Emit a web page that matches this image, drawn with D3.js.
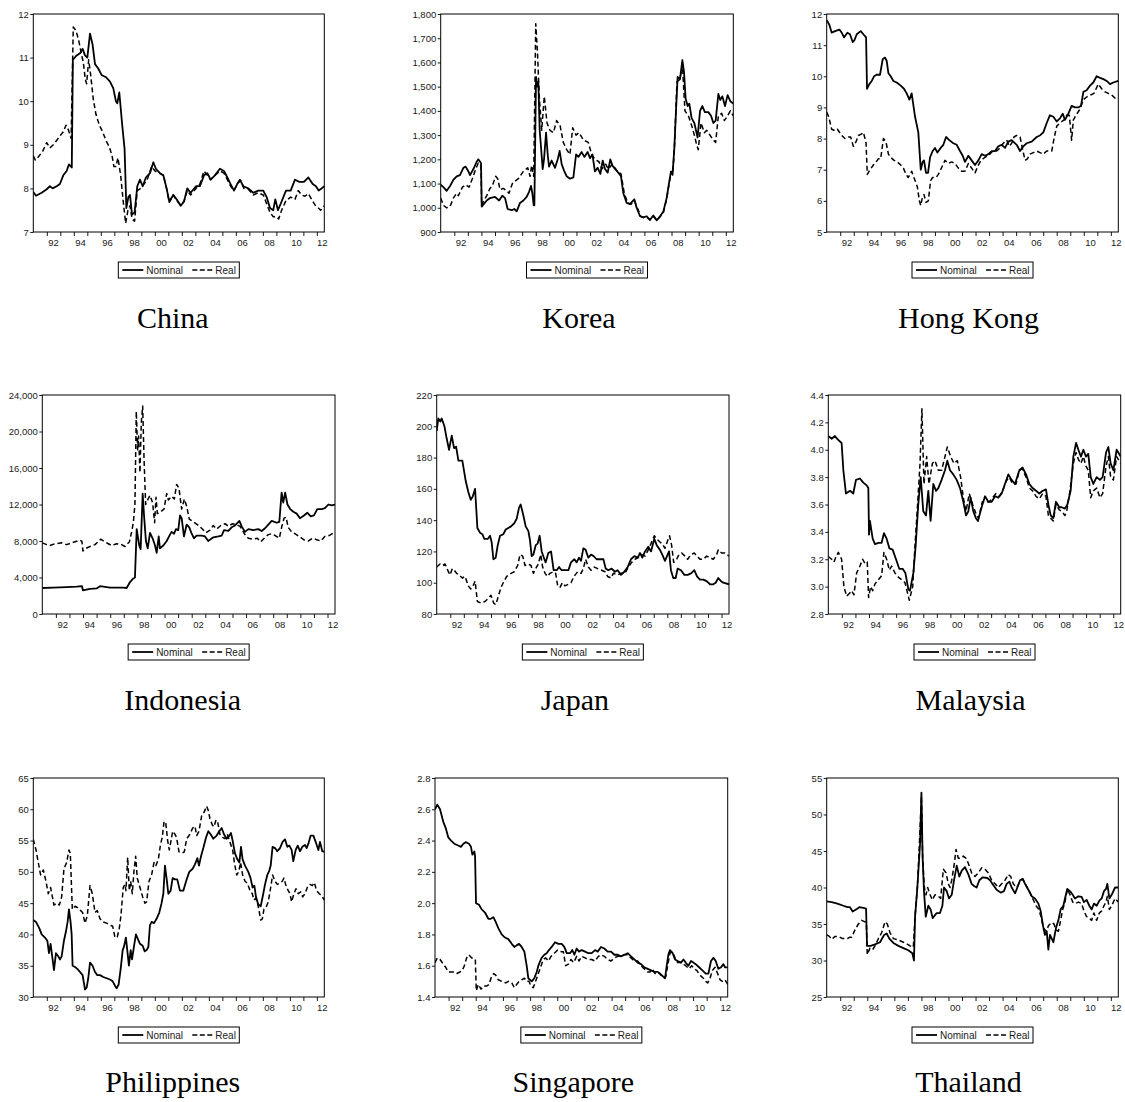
<!DOCTYPE html>
<html>
<head>
<meta charset="utf-8">
<script src="https://cdnjs.cloudflare.com/ajax/libs/d3/7.8.5/d3.min.js"></script>
<style>
  html, body { margin: 0; padding: 0; background: #fff; }
  svg { display: block; }
</style>
</head>
<body>
<svg id="chart" width="1125" height="1102"></svg>
<script>
// Monthly exchange rates, Jan 1991 – mid 2012: [decimal year, value]

const countries = ["China", "Korea", "Hong Kong", "Indonesia", "Japan", "Malaysia", "Philippines", "Singapore", "Thailand"];
const seriesNames = ["Nominal", "Real"];
const yearTicks = d3.range(1992, 2013);
const labelYears = [1992, 1994, 1996, 1998, 2000, 2002, 2004, 2006, 2008, 2010, 2012];
const yearLabels = ["92", "94", "96", "98", "00", "02", "04", "06", "08", "10", "12"];
const timeSpan = [1991, 2012.55];

const chinaTicks = [7, 8, 9, 10, 11, 12];
const koreaTicks = [900, 1000, 1100, 1200, 1300, 1400, 1500, 1600, 1700, 1800];
const hongKongTicks = [5, 6, 7, 8, 9, 10, 11, 12];
const indonesiaTicks = [0, 4000, 8000, 12000, 16000, 20000, 24000];
const japanTicks = [80, 100, 120, 140, 160, 180, 200, 220];
const malaysiaTicks = [2.8, 3.0, 3.2, 3.4, 3.6, 3.8, 4.0, 4.2, 4.4];
const philippinesTicks = [30, 35, 40, 45, 50, 55, 60, 65];
const singaporeTicks = [1.4, 1.6, 1.8, 2.0, 2.2, 2.4, 2.6, 2.8];
const thailandTicks = [25, 30, 35, 40, 45, 50, 55];

const chinaNominal = [[1991.00,7.92],[1991.20,7.83],[1991.62,7.9],[1991.99,7.98],[1992.23,8.05],[1992.43,8.0],[1992.73,8.05],[1992.97,8.1],[1993.22,8.3],[1993.47,8.4],[1993.64,8.55],[1993.85,8.48],[1993.93,10.95],[1994.21,11.05],[1994.46,11.1],[1994.65,11.2],[1994.83,11.05],[1995.00,11.0],[1995.20,11.55],[1995.39,11.3],[1995.57,10.85],[1995.81,10.75],[1996.06,10.6],[1996.38,10.55],[1996.68,10.45],[1996.92,10.3],[1997.12,10.0],[1997.22,9.95],[1997.37,10.2],[1997.57,9.5],[1997.76,8.9],[1997.89,7.55],[1998.04,7.8],[1998.16,7.85],[1998.31,7.4],[1998.50,7.45],[1998.70,8.05],[1998.90,8.2],[1999.10,8.05],[1999.34,8.25],[1999.64,8.35],[1999.89,8.6],[2000.08,8.45],[2000.38,8.35],[2000.63,8.3],[2000.87,8.0],[2001.07,7.7],[2001.37,7.85],[2001.61,7.75],[2001.91,7.6],[2002.16,7.7],[2002.40,8.0],[2002.65,7.9],[2003.05,8.05],[2003.34,8.05],[2003.64,8.3],[2003.89,8.35],[2004.13,8.2],[2004.45,8.3],[2004.82,8.45],[2005.12,8.4],[2005.37,8.25],[2005.61,8.1],[2005.86,7.95],[2006.10,8.1],[2006.30,8.2],[2006.55,8.05],[2006.92,8.0],[2007.29,7.9],[2007.66,7.95],[2008.03,7.95],[2008.28,7.8],[2008.53,7.55],[2008.77,7.5],[2008.92,7.75],[2009.12,7.5],[2009.39,7.7],[2009.71,7.95],[2010.06,7.95],[2010.38,8.2],[2010.70,8.15],[2011.04,8.15],[2011.37,8.25],[2011.69,8.1],[2011.93,8.05],[2012.13,7.95],[2012.35,8.0],[2012.55,8.05]];
const chinaReal = [[1991.00,8.75],[1991.15,8.65],[1991.37,8.72],[1991.69,8.85],[1991.99,9.05],[1992.23,8.93],[1992.48,9.0],[1992.73,9.1],[1992.97,9.2],[1993.22,9.3],[1993.42,9.45],[1993.59,9.35],[1993.80,9.15],[1993.96,11.7],[1994.16,11.62],[1994.36,11.4],[1994.55,11.1],[1994.70,10.9],[1994.85,10.5],[1994.95,10.4],[1995.10,10.95],[1995.25,10.6],[1995.44,10.05],[1995.64,9.7],[1995.89,9.45],[1996.13,9.3],[1996.38,9.1],[1996.63,8.95],[1996.83,8.75],[1996.97,8.5],[1997.12,8.5],[1997.27,8.7],[1997.47,8.3],[1997.66,7.7],[1997.84,7.2],[1998.01,7.5],[1998.16,7.6],[1998.31,7.3],[1998.50,7.25],[1998.70,7.95],[1998.95,8.0],[1999.20,8.1],[1999.44,8.2],[1999.76,8.5],[2000.01,8.4],[2000.33,8.35],[2000.63,8.3],[2000.87,8.0],[2001.07,7.68],[2001.37,7.85],[2001.61,7.72],[2001.91,7.62],[2002.16,7.7],[2002.40,7.95],[2002.65,7.85],[2003.05,8.0],[2003.34,8.1],[2003.64,8.4],[2003.89,8.3],[2004.13,8.2],[2004.45,8.3],[2004.82,8.4],[2005.12,8.35],[2005.37,8.2],[2005.61,8.05],[2005.86,7.95],[2006.10,8.1],[2006.35,8.18],[2006.60,8.0],[2006.92,7.98],[2007.29,7.85],[2007.66,7.9],[2008.03,7.85],[2008.28,7.65],[2008.53,7.45],[2008.77,7.35],[2009.02,7.35],[2009.17,7.3],[2009.39,7.5],[2009.71,7.72],[2010.06,7.8],[2010.38,7.75],[2010.62,7.95],[2010.87,7.85],[2011.12,7.82],[2011.37,7.88],[2011.61,7.75],[2011.86,7.62],[2012.11,7.55],[2012.28,7.5],[2012.55,7.6]];

const koreaNominal = [[1991.00,1095],[1991.20,1085],[1991.44,1070],[1991.69,1090],[1991.93,1115],[1992.18,1130],[1992.42,1135],[1992.67,1165],[1992.84,1170],[1993.04,1150],[1993.16,1135],[1993.41,1160],[1993.65,1190],[1993.77,1200],[1993.97,1185],[1994.02,1005],[1994.39,1030],[1994.63,1040],[1995.00,1045],[1995.30,1030],[1995.54,1050],[1995.74,1040],[1995.93,995],[1996.23,990],[1996.42,995],[1996.60,985],[1996.84,1020],[1997.09,1030],[1997.33,1045],[1997.50,1065],[1997.65,1090],[1997.75,1060],[1997.85,1010],[1997.90,1010],[1998.02,1540],[1998.12,1500],[1998.19,1520],[1998.29,1320],[1998.39,1250],[1998.51,1160],[1998.61,1200],[1998.76,1310],[1998.88,1220],[1998.98,1170],[1999.17,1195],[1999.42,1165],[1999.62,1200],[1999.76,1235],[1999.91,1180],[2000.11,1150],[2000.28,1130],[2000.52,1120],[2000.77,1125],[2000.97,1220],[2001.14,1210],[2001.38,1230],[2001.58,1210],[2001.82,1230],[2002.00,1205],[2002.17,1220],[2002.36,1150],[2002.56,1165],[2002.76,1140],[2002.93,1195],[2003.10,1160],[2003.30,1145],[2003.49,1200],[2003.64,1175],[2003.84,1160],[2004.08,1145],[2004.28,1130],[2004.45,1060],[2004.70,1020],[2004.94,1015],[2005.26,1035],[2005.43,1000],[2005.68,965],[2005.92,960],[2006.17,965],[2006.41,950],[2006.66,968],[2006.91,948],[2007.15,965],[2007.40,985],[2007.64,1040],[2007.81,1100],[2007.96,1150],[2008.08,1140],[2008.21,1250],[2008.33,1400],[2008.45,1540],[2008.62,1530],[2008.80,1610],[2008.92,1560],[2009.04,1450],[2009.19,1420],[2009.31,1430],[2009.48,1370],[2009.68,1350],[2009.80,1320],[2009.92,1290],[2010.10,1400],[2010.27,1420],[2010.46,1395],[2010.71,1395],[2010.91,1380],[2011.08,1350],[2011.25,1360],[2011.45,1470],[2011.59,1445],[2011.74,1460],[2011.94,1420],[2012.13,1465],[2012.33,1440],[2012.55,1430]];
const koreaReal = [[1991.00,1040],[1991.20,1010],[1991.44,1000],[1991.69,1005],[1991.93,1040],[1992.18,1060],[1992.30,1050],[1992.60,1085],[1992.84,1095],[1993.09,1085],[1993.33,1120],[1993.58,1160],[1993.77,1185],[1993.97,1170],[1994.02,1010],[1994.14,1025],[1994.39,1050],[1994.63,1080],[1994.80,1090],[1995.05,1130],[1995.20,1120],[1995.37,1075],[1995.61,1080],[1995.86,1070],[1996.03,1060],[1996.28,1100],[1996.47,1110],[1996.72,1120],[1997.09,1150],[1997.41,1165],[1997.58,1130],[1997.70,1175],[1997.85,1130],[1998.00,1760],[1998.12,1650],[1998.27,1450],[1998.44,1320],[1998.63,1460],[1998.83,1350],[1999.05,1320],[1999.30,1310],[1999.54,1360],[1999.79,1340],[2000.03,1270],[2000.28,1240],[2000.52,1220],[2000.72,1330],[2000.97,1300],[2001.19,1310],[2001.51,1280],[2001.87,1270],[2002.12,1220],[2002.36,1200],[2002.66,1190],[2002.86,1160],[2003.15,1180],[2003.35,1160],[2003.64,1180],[2003.96,1155],[2004.28,1140],[2004.52,1060],[2004.77,1020],[2005.02,1015],[2005.26,1030],[2005.48,1000],[2005.73,965],[2005.92,960],[2006.17,962],[2006.41,950],[2006.66,965],[2006.91,948],[2007.15,962],[2007.40,980],[2007.64,1035],[2007.81,1095],[2007.96,1145],[2008.08,1135],[2008.21,1240],[2008.40,1520],[2008.62,1530],[2008.80,1590],[2008.99,1400],[2009.24,1380],[2009.48,1340],[2009.68,1300],[2009.85,1260],[2009.97,1240],[2010.17,1350],[2010.42,1310],[2010.59,1320],[2010.83,1300],[2011.08,1280],[2011.25,1270],[2011.45,1380],[2011.69,1390],[2011.89,1360],[2012.13,1380],[2012.33,1400],[2012.55,1380]];

const hongKongNominal = [[1991.00,11.8],[1991.20,11.65],[1991.37,11.4],[1991.62,11.45],[1991.94,11.5],[1992.11,11.4],[1992.28,11.25],[1992.53,11.4],[1992.72,11.35],[1992.92,11.1],[1993.04,11.15],[1993.22,11.35],[1993.51,11.45],[1993.71,11.35],[1993.91,11.25],[1993.98,9.6],[1994.15,9.75],[1994.33,9.85],[1994.50,10.0],[1994.69,10.05],[1994.94,10.05],[1995.14,10.55],[1995.31,10.6],[1995.43,10.5],[1995.56,10.1],[1995.73,10.0],[1995.93,9.85],[1996.17,9.8],[1996.47,9.7],[1996.71,9.6],[1996.91,9.45],[1997.11,9.25],[1997.28,9.45],[1997.53,8.7],[1997.77,8.2],[1997.95,7.0],[1998.09,7.25],[1998.19,7.3],[1998.34,6.9],[1998.49,6.9],[1998.64,7.4],[1998.83,7.6],[1999.00,7.7],[1999.18,7.55],[1999.42,7.7],[1999.62,7.8],[1999.82,8.05],[2000.06,7.95],[2000.36,7.85],[2000.61,7.8],[2000.85,7.6],[2001.05,7.45],[2001.22,7.25],[2001.47,7.45],[2001.71,7.3],[2001.96,7.15],[2002.21,7.3],[2002.45,7.5],[2002.70,7.45],[2002.95,7.5],[2003.19,7.6],[2003.44,7.6],[2003.68,7.75],[2003.93,7.8],[2004.18,7.7],[2004.42,7.9],[2004.67,7.95],[2005.04,7.8],[2005.29,7.6],[2005.53,7.75],[2005.78,7.85],[2006.15,7.9],[2006.52,8.05],[2006.76,8.1],[2007.01,8.2],[2007.26,8.5],[2007.50,8.75],[2007.75,8.7],[2008.00,8.55],[2008.24,8.65],[2008.44,8.8],[2008.61,8.6],[2008.86,8.8],[2009.10,9.05],[2009.35,9.0],[2009.60,9.0],[2009.79,9.05],[2009.97,9.5],[2010.21,9.55],[2010.46,9.7],[2010.70,9.8],[2010.95,10.0],[2011.20,9.95],[2011.49,9.9],[2011.69,9.85],[2011.94,9.75],[2012.18,9.8],[2012.55,9.85]];
const hongKongReal = [[1991.00,8.85],[1991.15,8.7],[1991.37,8.3],[1991.62,8.25],[1991.79,8.3],[1992.11,8.1],[1992.35,8.0],[1992.60,8.05],[1992.77,8.05],[1992.97,7.75],[1993.17,7.9],[1993.34,8.1],[1993.59,8.15],[1993.71,8.2],[1993.83,8.0],[1993.91,7.85],[1994.00,6.85],[1994.20,7.0],[1994.45,7.15],[1994.65,7.25],[1994.82,7.35],[1994.99,7.35],[1995.19,8.0],[1995.38,7.9],[1995.56,7.5],[1995.73,7.4],[1995.98,7.3],[1996.22,7.25],[1996.47,7.15],[1996.67,7.05],[1996.86,6.85],[1997.03,6.75],[1997.28,6.95],[1997.53,6.65],[1997.70,6.45],[1997.85,6.0],[1997.95,5.85],[1998.09,6.15],[1998.19,6.2],[1998.34,5.95],[1998.51,6.0],[1998.68,6.65],[1998.83,6.75],[1999.08,6.75],[1999.25,6.85],[1999.42,7.0],[1999.74,7.3],[1999.99,7.2],[2000.24,7.25],[2000.48,7.2],[2000.73,7.05],[2000.98,6.95],[2001.22,6.95],[2001.47,7.2],[2001.71,7.05],[2001.96,6.9],[2002.21,7.15],[2002.40,7.3],[2002.70,7.4],[2002.95,7.45],[2003.27,7.6],[2003.56,7.6],[2003.81,7.7],[2004.05,7.85],[2004.30,7.95],[2004.50,7.75],[2004.67,7.85],[2004.84,8.05],[2005.04,8.1],[2005.29,8.05],[2005.48,7.65],[2005.66,7.3],[2005.83,7.35],[2006.02,7.5],[2006.27,7.55],[2006.52,7.6],[2006.76,7.55],[2007.01,7.5],[2007.26,7.6],[2007.63,7.6],[2007.80,8.0],[2008.00,8.4],[2008.24,8.5],[2008.54,8.6],[2008.73,8.75],[2008.93,8.75],[2009.10,7.95],[2009.23,8.6],[2009.42,8.75],[2009.72,8.95],[2009.97,9.25],[2010.26,9.35],[2010.51,9.4],[2010.75,9.45],[2011.07,9.75],[2011.32,9.6],[2011.57,9.5],[2011.81,9.45],[2012.06,9.4],[2012.31,9.3],[2012.55,9.3]];

const indonesiaNominal = [[1991.00,2850],[1991.81,2900],[1992.79,2950],[1993.53,3000],[1993.92,3050],[1993.99,2600],[1994.51,2750],[1995.00,2800],[1995.25,3050],[1995.49,3000],[1995.98,2900],[1996.96,2900],[1997.21,2850],[1997.46,3500],[1997.70,3900],[1997.82,4000],[1997.95,9300],[1998.14,7500],[1998.24,7100],[1998.39,13200],[1998.49,10800],[1998.63,8000],[1998.76,7200],[1998.93,8900],[1999.12,8300],[1999.30,7500],[1999.42,6700],[1999.57,8500],[1999.66,7200],[1999.91,7500],[2000.16,8000],[2000.40,8700],[2000.52,9000],[2000.70,8800],[2000.84,9300],[2001.01,9200],[2001.14,10800],[2001.26,10500],[2001.43,8500],[2001.63,9800],[2001.82,9500],[2002.00,8800],[2002.17,8300],[2002.36,8600],[2002.73,8600],[2002.98,8500],[2003.22,8000],[2003.59,8400],[2003.96,8500],[2004.21,8600],[2004.38,9200],[2004.70,9100],[2004.94,9500],[2005.19,9700],[2005.51,10200],[2005.68,9600],[2005.92,9000],[2006.17,9300],[2006.54,9200],[2006.91,9300],[2007.15,9100],[2007.40,9400],[2007.64,9800],[2007.89,10200],[2008.26,10000],[2008.45,10100],[2008.62,13300],[2008.74,12200],[2008.88,13300],[2009.05,12000],[2009.25,11500],[2009.48,11200],[2009.73,11000],[2009.97,10500],[2010.27,10800],[2010.51,11100],[2010.76,10700],[2011.00,10800],[2011.25,11500],[2011.57,11500],[2011.81,11600],[2012.06,12000],[2012.31,11900],[2012.55,12000]];
const indonesiaReal = [[1991.00,7800],[1991.32,7600],[1991.56,7500],[1991.93,7700],[1992.42,7800],[1992.79,7600],[1993.16,7800],[1993.58,8000],[1993.77,8100],[1993.92,7950],[1993.99,6900],[1994.22,7200],[1994.51,7400],[1994.88,7600],[1995.30,8200],[1995.61,7900],[1995.86,7700],[1996.11,7500],[1996.47,7700],[1996.84,7600],[1997.09,7400],[1997.21,7600],[1997.41,7900],[1997.58,9000],[1997.70,10000],[1997.82,12000],[1997.92,22200],[1998.02,18000],[1998.09,19500],[1998.19,15500],[1998.29,21000],[1998.39,22800],[1998.49,17000],[1998.61,12000],[1998.76,12500],[1998.93,13000],[1999.12,12200],[1999.27,10000],[1999.37,12800],[1999.47,11000],[1999.71,11200],[1999.96,11500],[2000.16,13200],[2000.28,12500],[2000.52,12900],[2000.72,12600],[2000.89,14200],[2001.06,13800],[2001.26,11500],[2001.46,12600],[2001.63,11800],[2001.82,10400],[2002.12,10100],[2002.41,9800],[2002.73,9400],[2003.05,8900],[2003.35,9200],[2003.59,9700],[2003.84,9300],[2004.14,9700],[2004.46,9900],[2004.70,9600],[2005.00,9900],[2005.31,9800],[2005.56,9600],[2005.92,8700],[2006.17,8300],[2006.54,8200],[2006.83,8300],[2007.08,7900],[2007.40,8400],[2007.64,8700],[2007.89,8800],[2008.14,8600],[2008.45,8300],[2008.62,9500],[2008.80,10500],[2008.95,10600],[2009.10,9500],[2009.35,9000],[2009.60,8800],[2009.92,8500],[2010.29,8100],[2010.58,8000],[2010.90,8300],[2011.27,8100],[2011.51,8000],[2011.80,8500],[2012.12,8600],[2012.44,8900],[2012.55,8900]];

const japanNominal = [[1991.00,197],[1991.12,205],[1991.27,203],[1991.37,205],[1991.57,200],[1991.74,192],[1991.91,185],[1992.11,194],[1992.28,186],[1992.43,187],[1992.60,178],[1992.89,178],[1993.14,165],[1993.33,158],[1993.51,153],[1993.65,155],[1993.83,160],[1994.00,135],[1994.19,132],[1994.37,131],[1994.51,128],[1994.76,128],[1994.93,130],[1995.05,126],[1995.18,115],[1995.35,116],[1995.50,124],[1995.67,130],[1995.91,131],[1996.09,134],[1996.28,135],[1996.48,136],[1996.72,138],[1996.90,141],[1997.07,148],[1997.19,150],[1997.39,143],[1997.56,136],[1997.76,133],[1997.88,127],[1998.00,117],[1998.13,118],[1998.30,124],[1998.44,125],[1998.59,130],[1998.74,120],[1998.94,115],[1999.03,113],[1999.23,119],[1999.43,120],[1999.62,108],[1999.85,108],[2000.02,110],[2000.21,108],[2000.46,108],[2000.71,108],[2000.90,113],[2001.15,115],[2001.32,113],[2001.49,116],[2001.64,114],[2001.81,122],[2001.98,121],[2002.18,116],[2002.38,118],[2002.57,117],[2002.79,115],[2003.04,115],[2003.29,115],[2003.46,109],[2003.65,108],[2003.90,109],[2004.14,107],[2004.34,108],[2004.59,105],[2004.83,107],[2005.08,110],[2005.32,115],[2005.57,117],[2005.82,116],[2005.99,119],[2006.16,116],[2006.36,120],[2006.60,123],[2006.80,120],[2007.04,128],[2007.22,124],[2007.46,121],[2007.63,118],[2007.83,114],[2007.98,117],[2008.13,120],[2008.27,108],[2008.44,103],[2008.62,103],[2008.76,109],[2009.01,108],[2009.26,105],[2009.50,105],[2009.75,106],[2009.99,108],[2010.19,104],[2010.41,102],[2010.66,102],[2010.90,101],[2011.15,99],[2011.39,99],[2011.57,100],[2011.76,103],[2011.96,101],[2012.13,100],[2012.55,99]];
const japanReal = [[1991.00,110],[1991.25,112],[1991.44,111],[1991.61,112],[1991.81,108],[1991.98,105],[1992.15,109],[1992.30,108],[1992.47,106],[1992.65,105],[1992.89,103],[1993.09,104],[1993.33,98],[1993.51,96],[1993.68,98],[1993.83,101],[1994.00,88],[1994.27,87],[1994.56,88],[1994.81,90],[1995.00,92],[1995.20,87],[1995.35,86],[1995.50,90],[1995.74,97],[1995.91,100],[1996.16,104],[1996.48,106],[1996.72,107],[1996.97,111],[1997.14,118],[1997.34,117],[1997.51,111],[1997.76,112],[1997.95,111],[1998.13,106],[1998.30,109],[1998.49,112],[1998.67,118],[1998.81,110],[1998.99,106],[1999.16,104],[1999.35,106],[1999.60,107],[1999.77,106],[1999.92,98],[2000.09,97],[2000.26,100],[2000.46,98],[2000.71,99],[2000.90,100],[2001.12,104],[2001.39,107],[2001.64,106],[2001.81,109],[2001.98,115],[2002.18,110],[2002.38,108],[2002.62,110],[2002.87,109],[2003.16,108],[2003.41,107],[2003.60,104],[2003.85,103],[2004.02,106],[2004.34,105],[2004.59,106],[2004.88,106],[2005.13,110],[2005.37,113],[2005.62,115],[2005.86,116],[2006.11,118],[2006.36,117],[2006.60,121],[2006.80,125],[2007.04,130],[2007.22,128],[2007.46,126],[2007.63,125],[2007.83,122],[2008.03,127],[2008.17,130],[2008.32,124],[2008.47,113],[2008.69,115],[2008.86,118],[2009.06,119],[2009.30,117],[2009.50,115],[2009.75,118],[2009.99,119],[2010.19,117],[2010.41,115],[2010.66,115],[2010.90,117],[2011.15,116],[2011.39,115],[2011.64,118],[2011.76,121],[2012.01,119],[2012.25,119],[2012.55,117]];

const malaysiaNominal = [[1991.00,4.1],[1991.25,4.08],[1991.49,4.1],[1991.66,4.08],[1991.86,4.06],[1991.98,4.05],[1992.11,3.85],[1992.30,3.68],[1992.60,3.7],[1992.84,3.68],[1993.04,3.78],[1993.33,3.79],[1993.58,3.76],[1993.83,3.74],[1993.95,3.72],[1994.00,3.38],[1994.07,3.48],[1994.27,3.35],[1994.44,3.31],[1994.69,3.32],[1994.93,3.32],[1995.10,3.39],[1995.30,3.35],[1995.50,3.28],[1995.74,3.27],[1995.99,3.2],[1996.23,3.13],[1996.48,3.13],[1996.68,3.1],[1996.90,2.98],[1997.02,2.97],[1997.27,3.1],[1997.44,3.3],[1997.63,3.6],[1997.81,3.8],[1998.00,3.55],[1998.20,3.52],[1998.37,3.7],[1998.54,3.48],[1998.74,3.75],[1998.94,3.7],[1999.11,3.72],[1999.35,3.78],[1999.60,3.85],[1999.77,3.92],[1999.97,3.85],[2000.21,3.82],[2000.46,3.78],[2000.71,3.72],[2000.95,3.62],[2001.15,3.52],[2001.32,3.55],[2001.49,3.65],[2001.69,3.55],[2001.88,3.5],[2002.03,3.48],[2002.30,3.58],[2002.55,3.66],[2002.79,3.62],[2003.04,3.62],[2003.29,3.66],[2003.53,3.65],[2003.78,3.68],[2004.02,3.75],[2004.27,3.82],[2004.51,3.78],[2004.76,3.75],[2005.08,3.85],[2005.32,3.87],[2005.57,3.82],[2005.82,3.75],[2006.06,3.72],[2006.31,3.7],[2006.55,3.68],[2006.80,3.7],[2007.04,3.71],[2007.22,3.6],[2007.39,3.52],[2007.58,3.5],[2007.78,3.62],[2008.03,3.58],[2008.20,3.58],[2008.44,3.57],[2008.62,3.6],[2008.86,3.7],[2009.06,3.95],[2009.26,4.05],[2009.43,4.0],[2009.62,3.95],[2009.80,4.0],[2009.99,3.95],[2010.16,3.97],[2010.34,3.8],[2010.53,3.75],[2010.78,3.8],[2011.02,3.78],[2011.22,3.8],[2011.47,3.98],[2011.64,4.02],[2011.81,3.9],[2012.01,3.85],[2012.25,4.0],[2012.55,3.95]];
const malaysiaReal = [[1991.00,3.22],[1991.25,3.2],[1991.42,3.18],[1991.57,3.22],[1991.74,3.25],[1991.98,3.2],[1992.15,3.0],[1992.35,2.93],[1992.55,2.95],[1992.72,2.97],[1992.89,2.94],[1993.09,3.1],[1993.33,3.15],[1993.53,3.2],[1993.70,3.17],[1993.87,3.18],[1993.97,2.92],[1994.12,3.0],[1994.27,2.97],[1994.44,3.02],[1994.69,3.05],[1994.93,3.08],[1995.10,3.25],[1995.30,3.2],[1995.50,3.12],[1995.67,3.15],[1995.91,3.1],[1996.16,3.07],[1996.41,3.05],[1996.65,3.03],[1996.97,2.9],[1997.22,3.0],[1997.39,3.3],[1997.58,3.6],[1997.76,3.9],[1997.90,4.3],[1998.05,3.75],[1998.25,3.95],[1998.42,3.75],[1998.67,3.9],[1998.86,3.92],[1999.11,3.85],[1999.35,3.85],[1999.60,3.95],[1999.77,4.02],[2000.02,3.95],[2000.26,3.9],[2000.51,3.92],[2000.75,3.8],[2000.95,3.65],[2001.15,3.55],[2001.39,3.68],[2001.64,3.6],[2001.93,3.52],[2002.08,3.5],[2002.35,3.62],[2002.62,3.62],[2002.87,3.62],[2003.11,3.65],[2003.36,3.68],[2003.60,3.66],[2003.85,3.7],[2004.10,3.77],[2004.34,3.8],[2004.59,3.75],[2004.83,3.75],[2005.08,3.85],[2005.32,3.86],[2005.57,3.8],[2005.82,3.72],[2006.06,3.7],[2006.31,3.66],[2006.55,3.64],[2006.80,3.68],[2007.04,3.66],[2007.22,3.52],[2007.39,3.5],[2007.58,3.48],[2007.78,3.6],[2008.03,3.56],[2008.20,3.55],[2008.44,3.52],[2008.57,3.55],[2008.81,3.7],[2009.06,3.9],[2009.26,3.98],[2009.43,3.93],[2009.62,3.9],[2009.80,3.95],[2009.99,3.88],[2010.16,3.85],[2010.34,3.65],[2010.53,3.7],[2010.78,3.72],[2011.02,3.65],[2011.22,3.68],[2011.47,3.88],[2011.64,3.95],[2011.81,3.8],[2012.01,3.78],[2012.25,3.95],[2012.55,3.9]];

const philippinesNominal = [[1991.00,42.3],[1991.20,42],[1991.44,41],[1991.62,40],[1991.86,39.5],[1992.04,39],[1992.16,37],[1992.28,38.5],[1992.43,36],[1992.53,34.3],[1992.68,37],[1992.85,36.5],[1992.97,36],[1993.10,36.5],[1993.27,39],[1993.42,40.5],[1993.54,42],[1993.64,44],[1993.76,42],[1993.84,40],[1993.91,35],[1994.09,34.8],[1994.26,34.5],[1994.46,34],[1994.65,33.5],[1994.83,31.2],[1994.95,31.5],[1995.07,33],[1995.20,35.5],[1995.39,35],[1995.57,34],[1995.74,33.5],[1995.94,33.5],[1996.18,33.2],[1996.43,33],[1996.68,32.8],[1996.88,32.5],[1997.05,31.8],[1997.17,31.4],[1997.32,32],[1997.47,34.5],[1997.62,37.5],[1997.71,38],[1997.86,39.5],[1998.08,35],[1998.21,37.5],[1998.31,36],[1998.45,38],[1998.60,40],[1998.70,39.5],[1998.90,38.5],[1999.10,38.2],[1999.25,37.3],[1999.39,37.5],[1999.52,38],[1999.64,41.5],[1999.76,42],[1999.94,41.8],[2000.13,42.5],[2000.33,43.5],[2000.50,45],[2000.63,46.5],[2000.75,51],[2000.87,49],[2001.00,46.5],[2001.17,47],[2001.32,49],[2001.49,48.8],[2001.66,48.8],[2001.86,47],[2002.11,47],[2002.36,48.8],[2002.55,50],[2002.80,50.5],[2002.97,51.2],[2003.15,52.2],[2003.27,51],[2003.42,52.5],[2003.59,53.8],[2003.79,55.5],[2003.96,56.5],[2004.13,56],[2004.33,55.3],[2004.58,55.8],[2004.77,56.5],[2004.95,57],[2005.12,56],[2005.32,55.3],[2005.52,55.8],[2005.64,56.2],[2005.76,55],[2005.93,53],[2006.11,52],[2006.26,51.5],[2006.38,54],[2006.50,52],[2006.68,51],[2006.92,50],[2007.09,49],[2007.24,47.5],[2007.37,47.8],[2007.49,46],[2007.66,44.8],[2007.84,44.5],[2008.03,46.5],[2008.16,48],[2008.33,49.5],[2008.48,50.2],[2008.58,51],[2008.72,54],[2008.90,53.8],[2009.07,53.3],[2009.27,53.8],[2009.46,54.8],[2009.64,55.2],[2009.81,54],[2009.96,54.2],[2010.13,53.5],[2010.25,51.7],[2010.43,53.5],[2010.58,54.2],[2010.75,53.3],[2010.92,54],[2011.12,54.3],[2011.24,53.8],[2011.37,54.5],[2011.54,55.8],[2011.74,55.8],[2011.91,54.8],[2012.11,53.5],[2012.23,54.8],[2012.40,53.3],[2012.55,53.2]];
const philippinesReal = [[1991.00,55.2],[1991.20,53.5],[1991.37,51.5],[1991.54,49.5],[1991.74,50.3],[1991.94,48.5],[1992.11,46.5],[1992.28,47.5],[1992.53,44.7],[1992.73,45],[1992.93,44.7],[1993.10,46],[1993.27,50.5],[1993.47,51.5],[1993.64,53.5],[1993.74,53],[1993.89,44],[1994.09,44.5],[1994.26,44.3],[1994.51,43.8],[1994.65,43.5],[1994.83,41.8],[1995.00,43],[1995.20,47.8],[1995.37,46.5],[1995.57,43.5],[1995.74,43.8],[1995.94,42.5],[1996.18,42],[1996.43,41.8],[1996.68,41.5],[1996.88,41.3],[1997.05,39.5],[1997.22,39.6],[1997.37,41],[1997.49,43],[1997.66,47.5],[1997.79,48],[1997.86,47],[1997.99,52.3],[1998.11,47],[1998.21,48.5],[1998.33,46.5],[1998.45,50],[1998.58,52.5],[1998.70,49],[1998.90,47.5],[1999.10,46],[1999.27,45],[1999.39,45.2],[1999.57,48.5],[1999.76,49.5],[1999.94,51.5],[2000.08,51],[2000.26,52],[2000.43,54.5],[2000.55,55.5],[2000.68,58],[2000.80,58],[2000.95,55],[2001.07,53.5],[2001.20,55],[2001.32,56.5],[2001.49,56],[2001.61,55.5],[2001.79,53.2],[2002.03,53],[2002.18,53.2],[2002.36,55.3],[2002.60,56],[2002.80,57],[2002.97,57.3],[2003.10,55.8],[2003.27,56.5],[2003.47,59],[2003.64,59.5],[2003.84,60.5],[2003.96,59.8],[2004.08,58.5],[2004.26,57.5],[2004.38,57.2],[2004.53,58.3],[2004.65,58],[2004.82,56],[2005.02,55.5],[2005.19,55.3],[2005.37,56],[2005.56,54.8],[2005.76,53.5],[2005.89,51.5],[2006.06,49.5],[2006.21,50],[2006.35,51.5],[2006.50,49.5],[2006.68,48.5],[2006.85,48.2],[2007.05,47],[2007.22,46.5],[2007.34,45.5],[2007.49,45.8],[2007.66,44.5],[2007.84,42.3],[2007.96,42.5],[2008.08,44],[2008.23,44.3],[2008.40,45.2],[2008.58,47.5],[2008.72,49.5],[2008.90,48.5],[2009.07,48],[2009.27,48.2],[2009.44,48.5],[2009.56,49],[2009.71,47.8],[2009.88,47],[2010.01,46.5],[2010.13,45.2],[2010.30,46.5],[2010.45,47.3],[2010.62,46.5],[2010.80,46.8],[2010.95,46],[2011.12,46.5],[2011.29,47.5],[2011.49,48],[2011.66,47.8],[2011.81,48.3],[2011.98,47],[2012.18,46.5],[2012.35,46.2],[2012.55,45.5]];

const singaporeNominal = [[1991.00,2.6],[1991.17,2.63],[1991.37,2.6],[1991.61,2.52],[1991.79,2.48],[1991.98,2.42],[1992.18,2.4],[1992.42,2.38],[1992.67,2.37],[1992.91,2.36],[1993.09,2.38],[1993.26,2.39],[1993.50,2.38],[1993.65,2.36],[1993.75,2.31],[1993.90,2.33],[1993.95,2.3],[1994.02,2.0],[1994.24,1.99],[1994.44,1.96],[1994.68,1.94],[1994.93,1.9],[1995.10,1.9],[1995.30,1.91],[1995.47,1.88],[1995.66,1.84],[1995.91,1.8],[1996.15,1.78],[1996.40,1.77],[1996.65,1.74],[1996.84,1.72],[1997.01,1.73],[1997.19,1.74],[1997.38,1.72],[1997.58,1.69],[1997.75,1.6],[1997.87,1.52],[1998.12,1.5],[1998.31,1.52],[1998.49,1.56],[1998.61,1.6],[1998.85,1.65],[1999.05,1.67],[1999.22,1.68],[1999.39,1.7],[1999.59,1.72],[1999.84,1.75],[2000.08,1.74],[2000.33,1.74],[2000.52,1.72],[2000.70,1.68],[2000.94,1.68],[2001.11,1.7],[2001.26,1.67],[2001.43,1.71],[2001.60,1.69],[2001.80,1.7],[2002.05,1.69],[2002.29,1.68],[2002.54,1.68],[2002.78,1.7],[2002.98,1.69],[2003.22,1.72],[2003.47,1.71],[2003.71,1.69],[2003.96,1.69],[2004.21,1.67],[2004.45,1.67],[2004.70,1.66],[2004.94,1.67],[2005.19,1.68],[2005.43,1.66],[2005.68,1.64],[2005.92,1.62],[2006.17,1.61],[2006.41,1.59],[2006.66,1.58],[2006.91,1.57],[2007.15,1.56],[2007.40,1.56],[2007.57,1.55],[2007.81,1.53],[2007.94,1.52],[2008.06,1.6],[2008.18,1.67],[2008.30,1.7],[2008.50,1.68],[2008.67,1.64],[2008.87,1.63],[2009.11,1.62],[2009.29,1.64],[2009.46,1.62],[2009.65,1.6],[2009.85,1.63],[2010.02,1.62],[2010.19,1.61],[2010.44,1.59],[2010.69,1.57],[2010.93,1.55],[2011.13,1.55],[2011.32,1.63],[2011.50,1.65],[2011.67,1.63],[2011.86,1.58],[2012.06,1.59],[2012.23,1.61],[2012.35,1.59],[2012.55,1.59]];
const singaporeReal = [[1991.00,1.62],[1991.17,1.65],[1991.37,1.64],[1991.61,1.61],[1991.79,1.59],[1991.98,1.56],[1992.35,1.56],[1992.60,1.55],[1992.84,1.56],[1993.01,1.57],[1993.16,1.6],[1993.33,1.65],[1993.50,1.67],[1993.70,1.65],[1993.90,1.64],[1993.97,1.64],[1994.04,1.44],[1994.19,1.48],[1994.39,1.45],[1994.56,1.47],[1994.80,1.47],[1994.98,1.48],[1995.12,1.52],[1995.32,1.55],[1995.47,1.54],[1995.66,1.51],[1995.91,1.5],[1996.20,1.49],[1996.40,1.5],[1996.65,1.49],[1996.84,1.46],[1997.01,1.48],[1997.19,1.5],[1997.38,1.51],[1997.58,1.52],[1997.75,1.5],[1997.92,1.5],[1998.07,1.47],[1998.24,1.46],[1998.41,1.5],[1998.61,1.55],[1998.81,1.6],[1998.98,1.64],[1999.15,1.65],[1999.35,1.63],[1999.54,1.66],[1999.79,1.68],[2000.03,1.7],[2000.28,1.69],[2000.45,1.69],[2000.62,1.6],[2000.82,1.61],[2001.01,1.64],[2001.21,1.62],[2001.43,1.66],[2001.60,1.63],[2001.80,1.66],[2002.05,1.65],[2002.29,1.64],[2002.54,1.64],[2002.78,1.63],[2003.03,1.66],[2003.22,1.67],[2003.47,1.66],[2003.71,1.64],[2003.96,1.63],[2004.21,1.65],[2004.45,1.66],[2004.70,1.66],[2004.94,1.67],[2005.19,1.67],[2005.43,1.65],[2005.68,1.63],[2005.92,1.63],[2006.17,1.6],[2006.41,1.58],[2006.66,1.56],[2006.83,1.56],[2007.00,1.58],[2007.20,1.55],[2007.40,1.56],[2007.64,1.54],[2007.89,1.52],[2007.99,1.53],[2008.13,1.6],[2008.30,1.68],[2008.48,1.69],[2008.67,1.65],[2008.87,1.62],[2009.11,1.62],[2009.29,1.61],[2009.46,1.6],[2009.70,1.58],[2009.90,1.6],[2010.10,1.58],[2010.27,1.57],[2010.51,1.54],[2010.76,1.52],[2010.93,1.5],[2011.08,1.49],[2011.25,1.52],[2011.42,1.57],[2011.62,1.59],[2011.81,1.55],[2011.99,1.51],[2012.16,1.5],[2012.35,1.51],[2012.55,1.48]];

const thailandNominal = [[1991.00,38.1],[1991.37,38.0],[1991.79,37.8],[1992.23,37.5],[1992.53,37.3],[1992.72,37.3],[1992.92,36.7],[1993.17,37.0],[1993.41,37.3],[1993.71,37.2],[1993.91,37.1],[1993.98,32.0],[1994.25,32.0],[1994.57,32.2],[1994.94,32.5],[1995.24,33.5],[1995.43,33.7],[1995.63,33.0],[1995.93,32.4],[1996.30,32.0],[1996.67,31.7],[1997.03,31.4],[1997.33,31.0],[1997.45,30.0],[1997.53,36.0],[1997.70,40.0],[1997.90,46.0],[1998.00,53.0],[1998.09,44.0],[1998.19,39.5],[1998.32,36.0],[1998.51,37.5],[1998.68,37.0],[1998.83,35.8],[1999.13,36.5],[1999.37,36.5],[1999.55,37.5],[1999.67,40.0],[1999.87,39.5],[2000.04,38.5],[2000.24,39.0],[2000.41,41.0],[2000.61,43.0],[2000.80,41.5],[2000.98,42.3],[2001.22,42.8],[2001.47,41.8],[2001.71,40.5],[2001.89,40.2],[2002.08,40.0],[2002.28,41.0],[2002.53,41.4],[2002.87,41.3],[2003.07,41.0],[2003.32,40.3],[2003.56,39.7],[2003.86,39.3],[2004.10,39.5],[2004.30,40.5],[2004.50,40.8],[2004.67,40.0],[2004.92,39.2],[2005.09,40.0],[2005.29,41.0],[2005.48,41.2],[2005.66,40.5],[2005.90,39.7],[2006.15,38.8],[2006.39,38.5],[2006.64,37.8],[2006.81,36.8],[2007.01,34.5],[2007.13,33.5],[2007.26,34.0],[2007.38,31.5],[2007.50,33.5],[2007.63,33.0],[2007.75,32.5],[2007.95,34.5],[2008.12,35.5],[2008.29,37.0],[2008.49,37.5],[2008.61,38.5],[2008.78,39.8],[2008.98,39.5],[2009.18,39.0],[2009.35,38.5],[2009.60,38.8],[2009.84,38.7],[2010.01,38.0],[2010.21,38.3],[2010.41,37.5],[2010.58,37.0],[2010.75,37.8],[2010.95,37.5],[2011.15,38.2],[2011.32,38.5],[2011.49,39.5],[2011.64,39.8],[2011.74,40.5],[2011.89,38.5],[2012.06,39.0],[2012.31,40.0],[2012.55,40.0]];
const thailandReal = [[1991.00,33.5],[1991.20,33.3],[1991.37,32.9],[1991.62,33.3],[1991.86,33.3],[1992.18,33.0],[1992.53,33.0],[1992.72,33.2],[1992.85,33.2],[1993.09,34.2],[1993.34,35.0],[1993.59,35.5],[1993.83,35.3],[1993.93,35.2],[1994.00,30.8],[1994.20,31.7],[1994.40,31.5],[1994.57,32.0],[1994.82,33.0],[1995.06,33.8],[1995.31,35.3],[1995.48,35.0],[1995.68,33.8],[1995.93,33.0],[1996.30,32.8],[1996.67,32.5],[1996.91,32.3],[1997.16,32.0],[1997.40,31.8],[1997.53,36.0],[1997.70,40.0],[1997.90,48.0],[1998.00,52.5],[1998.09,44.0],[1998.22,40.0],[1998.34,39.0],[1998.46,40.0],[1998.64,39.0],[1998.81,38.3],[1999.00,39.0],[1999.25,38.8],[1999.42,38.5],[1999.62,42.5],[1999.82,42.0],[1999.99,40.5],[2000.11,40.0],[2000.24,41.0],[2000.41,43.0],[2000.56,45.2],[2000.73,44.0],[2000.90,44.0],[2001.10,44.3],[2001.30,44.0],[2001.47,43.3],[2001.71,42.0],[2001.96,41.5],[2002.21,42.0],[2002.45,42.7],[2002.70,42.5],[2002.95,42.0],[2003.19,41.0],[2003.44,40.5],[2003.68,40.0],[2003.93,40.5],[2004.18,41.0],[2004.42,41.8],[2004.60,41.5],[2004.79,40.5],[2005.04,40.0],[2005.29,40.8],[2005.48,41.2],[2005.73,40.3],[2005.98,39.5],[2006.22,38.5],[2006.47,37.5],[2006.67,37.0],[2006.84,36.0],[2007.01,34.5],[2007.21,34.0],[2007.40,34.8],[2007.63,35.2],[2007.80,35.0],[2007.95,34.2],[2008.12,34.0],[2008.29,35.5],[2008.44,37.0],[2008.61,38.0],[2008.78,39.8],[2008.98,39.0],[2009.18,38.0],[2009.35,37.8],[2009.60,38.0],[2009.84,37.8],[2010.01,36.8],[2010.21,36.0],[2010.41,35.8],[2010.58,35.5],[2010.75,36.5],[2010.95,35.5],[2011.15,36.5],[2011.32,36.8],[2011.49,37.5],[2011.64,38.0],[2011.74,38.8],[2011.89,37.0],[2012.06,37.5],[2012.31,38.5],[2012.55,38.0]];

// ---- assemble panels ----
const fmtInt = d3.format("d");
const fmtComma = d3.format(",");
const fmtOne = d3.format(".1f");

const panels = [
  { name: countries[0], nominal: chinaNominal,       real: chinaReal,       ticks: chinaTicks,       fmt: fmtInt },
  { name: countries[1], nominal: koreaNominal,       real: koreaReal,       ticks: koreaTicks,       fmt: fmtComma },
  { name: countries[2], nominal: hongKongNominal,    real: hongKongReal,    ticks: hongKongTicks,    fmt: fmtInt },
  { name: countries[3], nominal: indonesiaNominal,   real: indonesiaReal,   ticks: indonesiaTicks,   fmt: fmtComma },
  { name: countries[4], nominal: japanNominal,       real: japanReal,       ticks: japanTicks,       fmt: fmtInt },
  { name: countries[5], nominal: malaysiaNominal,    real: malaysiaReal,    ticks: malaysiaTicks,    fmt: fmtOne },
  { name: countries[6], nominal: philippinesNominal, real: philippinesReal, ticks: philippinesTicks, fmt: fmtInt },
  { name: countries[7], nominal: singaporeNominal,   real: singaporeReal,   ticks: singaporeTicks,   fmt: fmtOne },
  { name: countries[8], nominal: thailandNominal,    real: thailandReal,    ticks: thailandTicks,    fmt: fmtInt }
];

// plot-area frames on the page
const frames = [
  { x0: 33.3,  x1: 324.3,  y0: 14,  y1: 232 },
  { x0: 440.7, x1: 733.3,  y0: 14,  y1: 232 },
  { x0: 826.7, x1: 1118.3, y0: 14,  y1: 232 },
  { x0: 42.3,  x1: 335,    y0: 395, y1: 614 },
  { x0: 436.7, x1: 729,    y0: 395, y1: 614 },
  { x0: 828.3, x1: 1120.7, y0: 395, y1: 614 },
  { x0: 33.3,  x1: 324.3,  y0: 778, y1: 997 },
  { x0: 435,   x1: 727.7,  y0: 778, y1: 997 },
  { x0: 826.7, x1: 1118.3, y0: 778, y1: 997 }
];
const titleBaselines = [327.5, 709.5, 1091.5];
const titleShift = [-6, -8, -4];

const sans = "'Liberation Sans', Arial, Helvetica, sans-serif";
const serif = "'Liberation Serif', 'Times New Roman', Times, serif";
const ink = "#1a1a1a";

const svg = d3.select("#chart");
const defs = svg.append("defs");

panels.forEach((p, i) => {
  const f = frames[i];
  const x = d3.scaleLinear().domain(timeSpan).range([f.x0, f.x1]);
  const y = d3.scaleLinear().domain(d3.extent(p.ticks)).range([f.y1, f.y0]);
  const g = svg.append("g").attr("class", "panel");

  defs.append("clipPath").attr("id", "clip" + i)
    .append("rect")
    .attr("x", f.x0).attr("y", f.y0)
    .attr("width", f.x1 - f.x0).attr("height", f.y1 - f.y0);

  // value axis
  const yAxis = g.append("g")
    .attr("transform", `translate(${f.x0},0)`)
    .call(d3.axisLeft(y).tickValues(p.ticks).tickSize(3).tickPadding(1.5).tickFormat(p.fmt));
  yAxis.select(".domain").remove();
  yAxis.selectAll("line").attr("stroke", ink);
  yAxis.selectAll("text")
    .attr("font-family", sans).attr("font-size", 9.5).attr("fill", ink);

  // time axis: a tick at every year boundary, labels centred on even years
  const xAxis = g.append("g")
    .attr("transform", `translate(0,${f.y1})`)
    .call(d3.axisBottom(x).tickValues(yearTicks).tickSize(4).tickFormat(""));
  xAxis.select(".domain").remove();
  xAxis.selectAll("line").attr("stroke", ink);

  g.append("g").selectAll("text")
    .data(labelYears)
    .join("text")
    .attr("x", (d) => Math.min(x(d + 0.5), f.x1 - 2))
    .attr("y", f.y1 + 13.5)
    .attr("text-anchor", "middle")
    .attr("font-family", sans).attr("font-size", 9.5).attr("fill", ink)
    .text((d, k) => yearLabels[k]);

  const line = d3.line().x((d) => x(d[0])).y((d) => y(d[1]));

  g.append("path")
    .datum(p.real)
    .attr("clip-path", `url(#clip${i})`)
    .attr("d", line)
    .attr("fill", "none")
    .attr("stroke", "#000")
    .attr("stroke-width", 1.5)
    .attr("stroke-dasharray", "5,3")
    .attr("stroke-linejoin", "round");

  g.append("path")
    .datum(p.nominal)
    .attr("clip-path", `url(#clip${i})`)
    .attr("d", line)
    .attr("fill", "none")
    .attr("stroke", "#000")
    .attr("stroke-width", 1.8)
    .attr("stroke-linejoin", "round");

  g.append("rect")
    .attr("x", f.x0).attr("y", f.y0)
    .attr("width", f.x1 - f.x0).attr("height", f.y1 - f.y0)
    .attr("fill", "none").attr("stroke", "#000").attr("stroke-width", 1);

  // legend box under the plot
  const cx = (f.x0 + f.x1) / 2;
  const lw = 121, lh = 16;
  const lx = cx - lw / 2, ly = f.y1 + 30;
  const lg = g.append("g").attr("transform", `translate(${lx},${ly})`);
  lg.append("rect").attr("width", lw).attr("height", lh)
    .attr("fill", "#fff").attr("stroke", "#000").attr("stroke-width", 1);
  lg.append("line").attr("x1", 4).attr("x2", 25).attr("y1", lh / 2).attr("y2", lh / 2)
    .attr("stroke", "#000").attr("stroke-width", 1.8);
  lg.append("text").attr("x", 28).attr("y", 11.8)
    .attr("font-family", sans).attr("font-size", 10).attr("fill", ink).text(seriesNames[0]);
  lg.append("line").attr("x1", 74).attr("x2", 94).attr("y1", lh / 2).attr("y2", lh / 2)
    .attr("stroke", "#000").attr("stroke-width", 1.5).attr("stroke-dasharray", "5,2.5");
  lg.append("text").attr("x", 97).attr("y", 11.8)
    .attr("font-family", sans).attr("font-size", 10).attr("fill", ink).text(seriesNames[1]);

  // country caption
  const row = Math.floor(i / 3), col = i % 3;
  g.append("text")
    .attr("x", cx + titleShift[col])
    .attr("y", titleBaselines[row])
    .attr("text-anchor", "middle")
    .attr("font-family", serif).attr("font-size", 30).attr("fill", "#000")
    .text(p.name);
});
</script>
</body>
</html>
